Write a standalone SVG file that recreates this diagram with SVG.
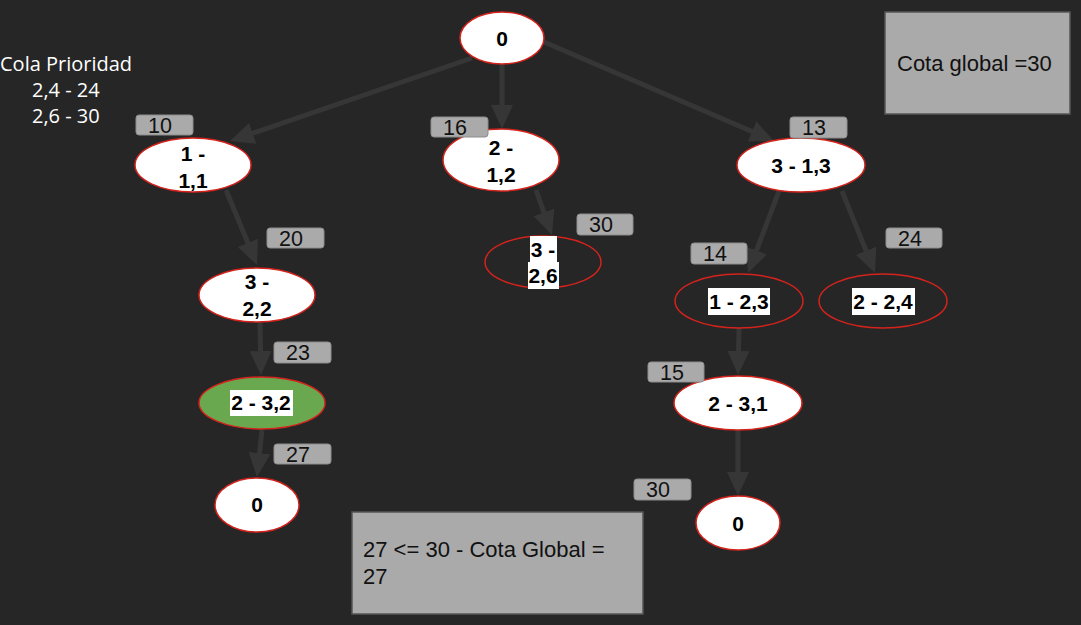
<svg xmlns="http://www.w3.org/2000/svg" width="1081" height="625" viewBox="0 0 1081 625">
<defs>
<style>
.bg{fill:#262626}
.edge{stroke:#363636;stroke-width:5;fill:none;marker-end:url(#ah)}
.n{fill:#ffffff;stroke:#d4231c;stroke-width:1.5}
.nt{fill:none;stroke:#d4231c;stroke-width:1.5}
.ng{fill:#6aa84f;stroke:#d4231c;stroke-width:1.5}
.t{font-family:"Liberation Sans",Arial,sans-serif;font-weight:bold;font-size:21px;fill:#000;text-anchor:middle}
.tb{fill:#fff}
.lb{fill:#aaaaaa;stroke:#8c8c8c;stroke-width:1}
.lt{font-family:"Liberation Sans",Arial,sans-serif;font-size:21.5px;fill:#111}
.bt{font-family:"Liberation Sans",Arial,sans-serif;font-size:22px;fill:#111}
.box{fill:#aaaaaa;stroke:#555;stroke-width:1.5}
.cola{font-family:"Open Sans","Noto Sans",sans-serif;font-size:20px;fill:#fff}
</style>
<marker id="ah" markerUnits="userSpaceOnUse" markerWidth="24" markerHeight="22" refX="2" refY="11" orient="auto">
<path d="M0,0 L24,11 L0,22 z" fill="#363636"/>
</marker>
</defs>
<rect class="bg" x="0" y="0" width="1081" height="625"/>

<g id="cola">
<text class="cola" x="0" y="71">Cola Prioridad</text>
<text class="cola" x="32" y="97">2,4 - 24</text>
<text class="cola" x="32" y="123">2,6 - 30</text>
</g>

<g id="connectors">
<line class="edge" x1="472" y1="58" x2="250.8" y2="133.9"/>
<line class="edge" x1="502" y1="63" x2="502" y2="107"/>
<line class="edge" x1="544" y1="42" x2="753.8" y2="132.3"/>
<line class="edge" x1="226" y1="190" x2="248.6" y2="244.7"/>
<line class="edge" x1="260" y1="322" x2="260.6" y2="353"/>
<line class="edge" x1="262" y1="430" x2="259.3" y2="455.1"/>
<line class="edge" x1="536" y1="190" x2="544.6" y2="214.3"/>
<line class="edge" x1="779" y1="191" x2="755.8" y2="252.4"/>
<line class="edge" x1="842" y1="191" x2="866.8" y2="252.6"/>
<line class="edge" x1="739" y1="328" x2="738.5" y2="353"/>
<line class="edge" x1="738" y1="430" x2="738" y2="474"/>
</g>

<g id="n-root">
<ellipse class="n" cx="502" cy="38" rx="42" ry="26"/>
<text class="t" x="502" y="46">0</text>
</g>
<g id="n-1-11">
<ellipse class="n" cx="193" cy="165" rx="58" ry="27"/>
<text class="t" x="193" y="161">1 -</text>
<text class="t" x="193" y="188">1,1</text>
</g>
<g id="n-2-12">
<ellipse class="n" cx="501" cy="160" rx="58" ry="31"/>
<text class="t" x="501" y="155">2 -</text>
<text class="t" x="501" y="182">1,2</text>
</g>
<g id="n-3-13">
<ellipse class="n" cx="801" cy="165" rx="64" ry="27"/>
<text class="t" x="801" y="173">3 - 1,3</text>
</g>
<g id="n-3-26">
<ellipse class="nt" cx="543" cy="262" rx="58" ry="26"/>
<rect class="tb" x="530" y="236" width="27" height="26"/>
<rect class="tb" x="528" y="262" width="31" height="27"/>
<text class="t" x="543" y="257">3 -</text>
<text class="t" x="543" y="283">2,6</text>
</g>
<g id="n-3-22">
<ellipse class="n" cx="257" cy="295" rx="58" ry="27"/>
<text class="t" x="257" y="289">3 -</text>
<text class="t" x="257" y="316">2,2</text>
</g>
<g id="n-2-32">
<ellipse class="ng" cx="262" cy="403" rx="63" ry="26"/>
<rect class="tb" x="230" y="390" width="63" height="26"/>
<text class="t" x="261" y="410">2 - 3,2</text>
</g>
<g id="n-0-left">
<ellipse class="n" cx="257" cy="505" rx="42" ry="27"/>
<text class="t" x="257" y="512">0</text>
</g>
<g id="n-1-23">
<ellipse class="nt" cx="739" cy="301" rx="64" ry="27"/>
<rect class="tb" x="708" y="288" width="62" height="27"/>
<text class="t" x="739" y="309">1 - 2,3</text>
</g>
<g id="n-2-24">
<ellipse class="nt" cx="883" cy="301" rx="64" ry="27"/>
<rect class="tb" x="852" y="288" width="63" height="27"/>
<text class="t" x="883" y="309">2 - 2,4</text>
</g>
<g id="n-2-31">
<ellipse class="n" cx="738" cy="403" rx="64" ry="27"/>
<text class="t" x="738" y="411">2 - 3,1</text>
</g>
<g id="n-0-right">
<ellipse class="n" cx="738" cy="523" rx="42" ry="27"/>
<text class="t" x="738" y="531">0</text>
</g>

<g id="labels">
<rect class="lb" x="136" y="115" width="57" height="20" rx="3"/><text class="lt" x="148" y="133">10</text>
<rect class="lb" x="431" y="117" width="57" height="20" rx="3"/><text class="lt" x="443" y="135">16</text>
<rect class="lb" x="577" y="214" width="56" height="21" rx="3"/><text class="lt" x="589" y="232">30</text>
<rect class="lb" x="790" y="117" width="57" height="21" rx="3"/><text class="lt" x="802" y="135">13</text>
<rect class="lb" x="691" y="243" width="56" height="21" rx="3"/><text class="lt" x="703" y="261">14</text>
<rect class="lb" x="886" y="228" width="56" height="20" rx="3"/><text class="lt" x="898" y="246">24</text>
<rect class="lb" x="267" y="228" width="57" height="20" rx="3"/><text class="lt" x="279" y="246">20</text>
<rect class="lb" x="274" y="342" width="57" height="21" rx="3"/><text class="lt" x="286" y="360">23</text>
<rect class="lb" x="274" y="444" width="57" height="20" rx="3"/><text class="lt" x="286" y="462">27</text>
<rect class="lb" x="648" y="362" width="56" height="20" rx="3"/><text class="lt" x="660" y="380">15</text>
<rect class="lb" x="634" y="479" width="57" height="21" rx="3"/><text class="lt" x="646" y="497">30</text>
</g>

<g id="cota-global">
<rect class="box" x="885" y="12" width="185" height="102"/>
<text class="bt" x="897" y="71">Cota global =30</text>
</g>
<g id="resultado">
<rect class="box" x="352" y="512" width="291" height="102"/>
<text class="bt" x="363" y="557">27 &lt;= 30 - Cota Global =</text>
<text class="bt" x="363" y="584">27</text>
</g>
</svg>
